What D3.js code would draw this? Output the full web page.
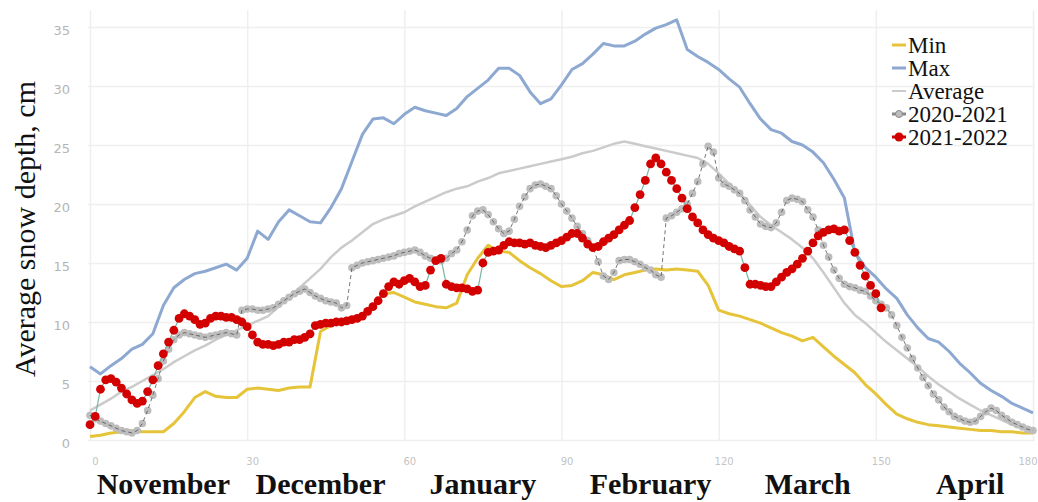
<!DOCTYPE html>
<html lang="en">
<head>
<meta charset="UTF-8">
<title>Average snow depth</title>
<style>
  html, body { margin: 0; padding: 0; background: #fff; }
  svg { display: block; }
  .grid line { stroke: #efefef; stroke-width: 1.5; }
  .grid path { display: none; }
  .y-grid text { font: 13px "DejaVu Sans", sans-serif; fill: #b5b5b5; }
  .x-grid text { font: 10px "DejaVu Sans", sans-serif; fill: #c4c4c4; }
  .month { font: bold 30px "Liberation Serif", "Times New Roman", serif; fill: #111; }
  .y-title { font: 30px "Liberation Serif", "Times New Roman", serif; fill: #111; }
  .legend text { font: 23px "Liberation Serif", "Times New Roman", serif; fill: #111; }
</style>
</head>
<body>
<svg class="chart"></svg>
<script src="https://cdnjs.cloudflare.com/ajax/libs/d3/7.8.5/d3.min.js"></script>
<script>
// ---- data (days since 1 November) ----
const months = ["November", "December", "January", "February", "March", "April"];
const monthCenters = [14, 44, 75, 107, 137, 168];
const xTicks = [0, 30, 60, 90, 120, 150, 180];
const yTicks = [0, 5, 10, 15, 20, 25, 30, 35];
const seriesNames = ["Min", "Max", "Average", "2020-2021", "2021-2022"];

// Min / Max / Average are read every second day
const lineDays = d3.range(0, 181, 2);
const minVals = [0.3, 0.4, 0.6, 0.7, 0.8, 0.7, 0.7, 0.7, 1.4, 2.4, 3.6, 4.1, 3.7, 3.6, 3.6, 4.3, 4.4, 4.3, 4.2, 4.4,
  4.5, 4.5, 9.2, 9.7, 10.0, 10.2, 10.6, 11.4, 12.4, 12.5, 12.1, 11.7, 11.5, 11.3, 11.2, 11.6, 14.0, 15.4, 16.5, 16.0,
  15.9, 15.2, 14.6, 14.1, 13.5, 13.0, 13.1, 13.5, 14.2, 14.0, 13.6, 14.0, 14.2, 14.4, 14.5, 14.4, 14.5, 14.4, 14.3, 13.1,
  11.0, 10.7, 10.5, 10.2, 9.9, 9.5, 9.1, 8.8, 8.4, 8.7, 7.9, 7.1, 6.4, 5.7, 4.7, 3.9, 3.0, 2.2, 1.8, 1.5,
  1.3, 1.2, 1.1, 1.0, 0.9, 0.8, 0.8, 0.7, 0.7, 0.6, 0.6];
const maxVals = [6.2, 5.6, 6.3, 6.9, 7.7, 8.1, 9.0, 11.4, 12.9, 13.6, 14.1, 14.3, 14.6, 14.9, 14.4, 15.4, 17.7, 17.0, 18.5, 19.5,
  19.0, 18.5, 18.4, 19.7, 21.3, 23.6, 25.9, 27.2, 27.3, 26.8, 27.6, 28.2, 27.9, 27.7, 27.5, 28.1, 29.1, 29.8, 30.5, 31.5,
  31.5, 30.9, 29.5, 28.5, 28.9, 30.1, 31.4, 31.9, 32.7, 33.6, 33.4, 33.4, 33.8, 34.4, 34.9, 35.2, 35.6, 33.1, 32.5, 32.0,
  31.4, 30.6, 29.9, 28.5, 27.2, 26.3, 26.0, 25.3, 25.0, 24.4, 23.5, 22.1, 20.5, 15.9, 14.6, 13.8, 12.8, 12.0, 10.6, 9.5,
  8.6, 8.3, 7.5, 6.5, 5.7, 4.8, 4.2, 3.7, 3.1, 2.7, 2.3];
const avgVals = [2.5, 3.0, 3.5, 4.1, 4.5, 5.0, 5.5, 6.0, 6.6, 7.1, 7.6, 8.0, 8.5, 8.9, 9.3, 9.7, 10.1, 10.5, 11.3, 12.1,
  12.9, 13.7, 14.5, 15.5, 16.3, 16.9, 17.6, 18.3, 18.7, 19.0, 19.3, 19.8, 20.2, 20.6, 21.0, 21.3, 21.5, 21.9, 22.2, 22.6,
  22.8, 23.0, 23.2, 23.4, 23.6, 23.8, 24.0, 24.3, 24.5, 24.8, 25.1, 25.3, 25.1, 24.9, 24.7, 24.5, 24.3, 24.1, 23.9, 23.4,
  22.6, 21.7, 20.9, 19.9, 18.9, 18.2, 17.6, 17.0, 16.3, 15.4, 14.2, 12.9, 11.6, 10.6, 9.9, 9.1, 8.3, 7.6, 6.9, 6.2,
  5.4, 4.7, 4.1, 3.5, 3.0, 2.5, 2.1, 1.7, 1.3, 1.0, 0.7];

// 2020-2021 season, daily
const days2021 = d3.range(0, 181);
const vals2021 = [2.1, 1.8, 1.6, 1.4, 1.2, 1.0, 0.8, 0.7, 0.6, 0.8, 1.4, 2.5, 3.8, 5.2, 6.7, 7.7, 8.5, 8.9, 9.1, 9.0,
  8.9, 8.8, 8.7, 8.8, 8.9, 9.0, 9.1, 9.0, 8.9, 11.0, 11.1, 11.1, 11.0, 11.0, 11.1, 11.2, 11.5, 11.8, 12.1, 12.4,
  12.6, 12.8, 12.5, 12.2, 12.0, 11.8, 11.7, 11.6, 11.2, 11.4, 14.6, 14.8, 15.0, 15.1, 15.2, 15.3, 15.4, 15.5, 15.6, 15.8,
  15.9, 16.0, 16.1, 15.9, 15.6, 15.4, 15.2, 15.2, 15.4, 15.8, 16.1, 16.8, 17.8, 19.0, 19.4, 19.5, 19.1, 18.5, 17.9, 17.5,
  17.7, 18.7, 19.8, 20.6, 21.3, 21.6, 21.7, 21.5, 21.3, 20.7, 20.0, 19.4, 18.8, 18.1, 17.5, 16.9, 16.3, 15.1, 13.9, 13.6,
  14.2, 15.2, 15.3, 15.3, 15.1, 14.9, 14.6, 14.4, 14.0, 13.8, 18.8, 19.0, 19.3, 19.6, 20.0, 20.9, 21.9, 23.4, 24.9, 24.4,
  22.2, 21.7, 21.5, 21.2, 20.9, 20.3, 19.5, 18.9, 18.3, 18.1, 18.0, 18.4, 19.3, 20.3, 20.5, 20.4, 20.2, 19.5, 18.9, 17.8,
  16.5, 15.5, 14.4, 13.7, 13.2, 13.0, 12.9, 12.7, 12.6, 12.2, 11.8, 11.5, 11.2, 10.6, 9.7, 8.7, 7.8, 6.9, 6.1, 5.3,
  4.6, 3.9, 3.4, 2.8, 2.4, 2.0, 1.8, 1.6, 1.5, 1.6, 2.0, 2.4, 2.7, 2.5, 2.1, 1.8, 1.5, 1.3, 1.1, 0.9,
  0.8];

// 2021-2022 season, daily
const days2122 = d3.range(0, 152);
const vals2122 = [1.3, 2.0, 4.3, 5.1, 5.2, 4.9, 4.4, 3.9, 3.4, 3.1, 3.3, 4.1, 5.1, 6.3, 7.3, 8.3, 9.3, 10.3, 10.7, 10.5,
  10.2, 9.8, 9.9, 10.3, 10.5, 10.5, 10.4, 10.4, 10.2, 10.0, 9.6, 8.9, 8.3, 8.1, 8.1, 8.0, 8.1, 8.3, 8.3, 8.5,
  8.5, 8.7, 9.0, 9.7, 9.8, 9.9, 9.9, 10.0, 10.0, 10.1, 10.2, 10.3, 10.5, 10.9, 11.3, 11.8, 12.4, 13.0, 13.4, 13.2,
  13.5, 13.7, 13.4, 13.0, 13.1, 14.4, 15.2, 15.4, 13.2, 13.0, 12.9, 12.9, 12.8, 12.6, 12.7, 15.0, 15.9, 16.0, 16.1, 16.5,
  16.8, 16.7, 16.7, 16.6, 16.7, 16.5, 16.4, 16.3, 16.5, 16.7, 16.9, 17.2, 17.5, 17.5, 17.1, 16.6, 16.3, 16.4, 16.8, 17.1,
  17.4, 17.8, 18.2, 18.6, 19.7, 20.8, 22.0, 23.4, 23.9, 23.4, 22.7, 22.0, 21.3, 20.5, 19.6, 18.9, 18.4, 17.8, 17.4, 17.1,
  16.9, 16.7, 16.4, 16.2, 16.0, 14.6, 13.2, 13.2, 13.1, 13.0, 13.0, 13.4, 13.8, 14.2, 14.5, 14.9, 15.4, 16.0, 16.7, 17.3,
  17.6, 17.8, 17.9, 17.7, 17.8, 16.9, 15.9, 14.8, 13.9, 13.1, 12.4, 11.2];

// ---- drawing ----
const width = 1038, height = 502;
const svg = d3.select("svg.chart").attr("width", width).attr("height", height);

const x = d3.scaleLinear().domain([0, 180]).range([90, 1033]);
const y = d3.scaleLinear().domain([0, 35]).range([440, 27]);

const plotLeft = 88, plotRight = 1035, plotTop = 10;

// horizontal grid + y labels
const yGrid = svg.append("g")
  .attr("class", "grid y-grid")
  .attr("transform", `translate(${plotLeft},0)`)
  .call(d3.axisLeft(y).tickValues(yTicks).tickSize(-(plotRight - plotLeft)).tickPadding(18));
yGrid.selectAll("text").attr("dy", "0.55em");

// vertical grid + x labels
const xGrid = svg.append("g")
  .attr("class", "grid x-grid")
  .attr("transform", `translate(0,${y(0)})`)
  .call(d3.axisBottom(x).tickValues(xTicks).tickSize(-(y(0) - plotTop)).tickPadding(18));
xGrid.selectAll("text").attr("dx", 5);
// last label sits at the right edge
xGrid.selectAll("text").filter(d => d === 180)
  .attr("text-anchor", "end").attr("dx", 4);

// month names
svg.append("g").selectAll("text")
  .data(months)
  .join("text")
  .attr("class", "month")
  .attr("x", (d, i) => x(monthCenters[i]))
  .attr("y", 494)
  .attr("text-anchor", "middle")
  .text(d => d);

// y title
svg.append("text")
  .attr("class", "y-title")
  .attr("transform", "translate(35,229) rotate(-90)")
  .attr("text-anchor", "middle")
  .text("Average snow depth, cm");

const lineGen = (days) => d3.line()
  .x((d, i) => x(days[i]))
  .y(d => y(d));

const plot = svg.append("g").attr("class", "plot");

// Max
plot.append("path")
  .attr("d", lineGen(lineDays)(maxVals))
  .attr("fill", "none").attr("stroke", "#8ea9d1").attr("stroke-width", 3)
  .attr("stroke-linejoin", "round");

// Average
plot.append("path")
  .attr("d", lineGen(lineDays)(avgVals))
  .attr("fill", "none").attr("stroke", "#cbcbcb").attr("stroke-width", 2.5)
  .attr("stroke-linejoin", "round");

// Min
plot.append("path")
  .attr("d", lineGen(lineDays)(minVals))
  .attr("fill", "none").attr("stroke", "#e6c43a").attr("stroke-width", 3)
  .attr("stroke-linejoin", "round");

// 2020-2021: grey markers with a thin dark line running through them
plot.append("g").selectAll("circle")
  .data(vals2021)
  .join("circle")
  .attr("cx", (d, i) => x(days2021[i]))
  .attr("cy", d => y(d))
  .attr("r", 3.8)
  .attr("fill", "#bdbdbd");
plot.append("path")
  .attr("d", lineGen(days2021)(vals2021))
  .attr("fill", "none").attr("stroke", "#4a4a4a").attr("stroke-width", 1)
  .attr("stroke-dasharray", "4 3")
  .attr("opacity", 0.75);

// 2021-2022
plot.append("path")
  .attr("d", lineGen(days2122)(vals2122))
  .attr("fill", "none").attr("stroke", "#7ab6a6").attr("stroke-width", 1.2);
plot.append("g").selectAll("circle")
  .data(vals2122)
  .join("circle")
  .attr("cx", (d, i) => x(days2122[i]))
  .attr("cy", d => y(d))
  .attr("r", 4.4)
  .attr("fill", "#d30000");

// legend
const legend = svg.append("g").attr("class", "legend").attr("transform", "translate(892,45)");
const legendRow = 23;
const items = legend.selectAll("g")
  .data(seriesNames)
  .join("g")
  .attr("transform", (d, i) => `translate(0,${i * legendRow})`);

const legendColors = ["#e6c43a", "#8ea9d1", "#cbcbcb", "#8a8a8a", "#d30000"];
items.append("line")
  .attr("x1", 0).attr("x2", 14)
  .attr("stroke", (d, i) => legendColors[i])
  .attr("stroke-width", (d, i) => i === 2 ? 2 : 3);
items.filter((d, i) => i === 3).append("circle")
  .attr("cx", 7).attr("r", 3.5).attr("fill", "#bdbdbd").attr("stroke", "#8a8a8a");
items.filter((d, i) => i === 4).append("circle")
  .attr("cx", 7).attr("r", 4.5).attr("fill", "#d30000");
items.append("text")
  .attr("x", 16)
  .attr("dy", "0.35em")
  .text(d => d);
</script>
</body>
</html>
